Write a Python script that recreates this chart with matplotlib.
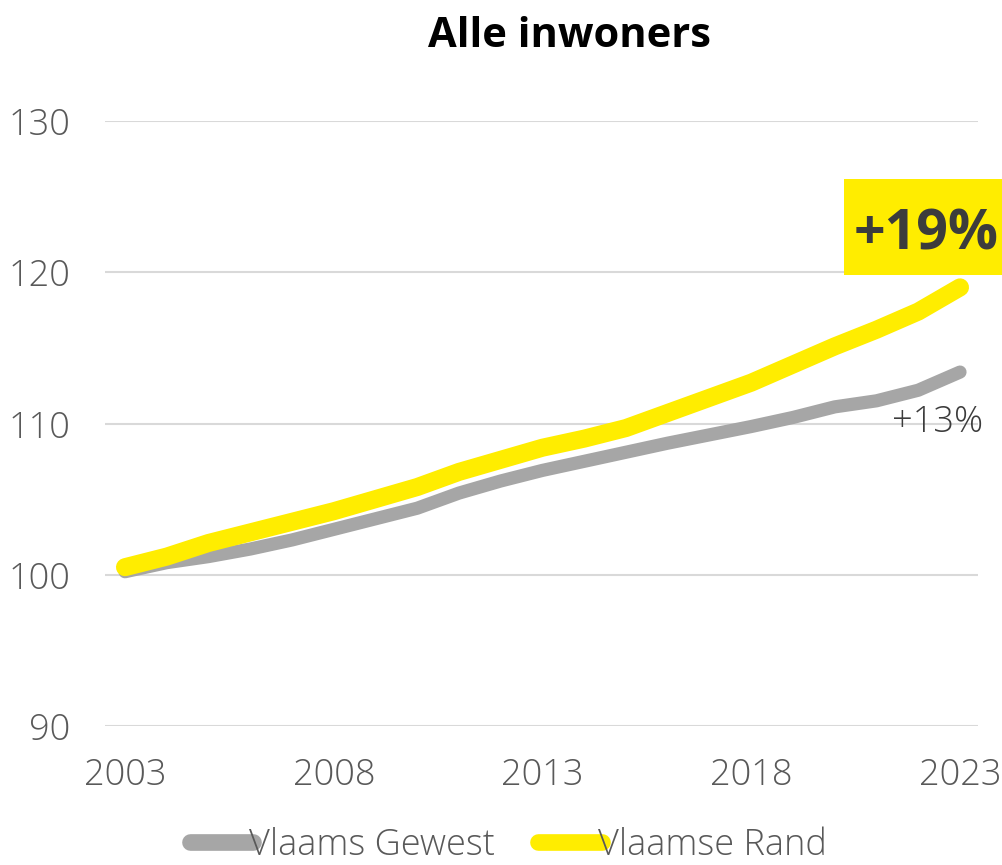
import matplotlib
matplotlib.use("Agg")
import matplotlib.pyplot as plt
from matplotlib.patches import Rectangle

years = list(range(2003, 2024))
vlaams_gewest = [100.2, 100.8, 101.2, 101.7, 102.3, 103.0, 103.7, 104.4, 105.4, 106.2,
                 106.9, 107.5, 108.1, 108.7, 109.25, 109.8, 110.4, 111.1, 111.5, 112.2, 113.4]
vlaamse_rand = [100.5, 101.2, 102.1, 102.8, 103.5, 104.2, 105.0, 105.8, 106.8, 107.6,
                108.4, 109.0, 109.7, 110.7, 111.7, 112.7, 113.9, 115.1, 116.2, 117.4, 119.0]
series_names = ["Vlaams Gewest", "Vlaamse Rand"]
xtick_years = [2003, 2008, 2013, 2018, 2023]
yticks = [90, 100, 110, 120, 130]
title = "Alle inwoners"
label_rand = "+19%"
label_gewest = "+13%"

GRAY = "#a6a6a6"
YELLOW = "#ffed00"
TXT = "#595959"
DARK = "#3c3c3c"

plt.rcParams['font.family'] = ['Open Sans', 'DejaVu Sans']

fig = plt.figure(figsize=(10.02, 8.65), dpi=100)
ax = fig.add_axes([105/1002, 1-726/865, (978-105)/1002, (726-121)/865])

ax.plot(years, vlaams_gewest, color=GRAY, lw=9.5, solid_capstyle='round',
        solid_joinstyle='round', label=series_names[0], zorder=3)
ax.plot(years, vlaamse_rand, color=YELLOW, lw=13, solid_capstyle='round',
        solid_joinstyle='round', label=series_names[1], zorder=4)

ax.set_xlim(2003 - 20/41.75, 2023 + 18/41.75)
ax.set_ylim(90, 130)
ax.set_yticks(yticks)
ax.set_xticks(xtick_years)
ax.set_xticklabels([str(y) for y in xtick_years])
ax.grid(axis='y', color='#d9d9d9', lw=1.5, zorder=0)
ax.set_axisbelow(True)
for s in ax.spines.values():
    s.set_visible(False)
ax.tick_params(axis='both', length=0, labelsize=26, labelcolor=TXT)
ax.tick_params(axis='x', pad=22)
ax.tick_params(axis='y', pad=25)
for lab in ax.get_yticklabels() + ax.get_xticklabels():
    lab.set_fontweight('light')

fig.text(570/1002, 1-47/865, title, ha='center', va='baseline', fontsize=30,
         fontweight='bold', color='black')

# +19% box
fig.patches.append(Rectangle((844/1002, 1-275/865), (1002-844)/1002, 96/865,
                             transform=fig.transFigure, facecolor=YELLOW,
                             edgecolor='none', zorder=5))
fig.text(926/1002, 1-250/865, label_rand, ha='center', va='baseline', fontsize=40,
         fontweight='bold', color=DARK, zorder=6)

ax.annotate(label_gewest, xy=(years[-1], vlaams_gewest[-1]), xytext=(-16, -43),
            textcoords='offset points', ha='center', va='baseline', fontsize=26,
            color=DARK, fontweight='light')

leg = ax.legend(loc='center', bbox_to_anchor=(0.462, -0.197), ncol=2, frameon=False,
                fontsize=26, handlelength=1.75, handletextpad=-0.1, columnspacing=1.2,
                labelcolor=TXT)
for t in leg.get_texts():
    t.set_fontweight('light')
for h in leg.get_lines():
    h.set_linewidth(12)

fig.savefig("out.png", dpi=100)
